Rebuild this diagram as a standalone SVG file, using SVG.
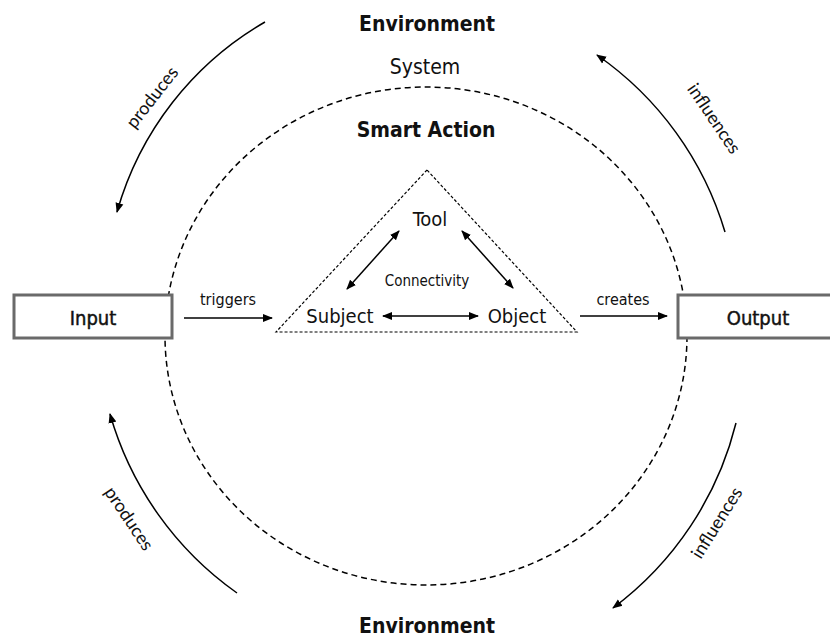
<svg xmlns="http://www.w3.org/2000/svg" width="830" height="637" viewBox="0 0 830 637">
  <style>
    .t { font-family: "DejaVu Sans Condensed", "DejaVu Sans", sans-serif; font-stretch: condensed; fill: #111; text-anchor: middle; }
    .b { font-weight: bold; }
    .heavy { stroke: #111; stroke-width: 0.45; }
    .lbl { font-family: Lato, "Open Sans", sans-serif; font-size: 18px; fill: #111; text-anchor: middle; }
    .box { fill: #fff; stroke: #6a6a6a; stroke-width: 3; }
    .flow { fill: none; stroke: #000; stroke-width: 1.5; }
    .link { fill: none; stroke: #000; stroke-width: 1.5; }
  </style>
  <defs>
    <marker id="arr" viewBox="0 0 10 10" refX="9" refY="5" markerWidth="10" markerHeight="10" markerUnits="userSpaceOnUse" orient="auto-start-reverse">
      <path d="M0,1 L10,5 L0,9 z" fill="#000"/>
    </marker>
  </defs>
  <rect width="830" height="637" fill="#fff"/>

  <!-- system boundary -->
  <g id="system">
    <ellipse cx="426" cy="336" rx="261" ry="249" fill="none" stroke="#000" stroke-width="1.5" stroke-dasharray="6,4"/>
    <text class="t" x="425" y="74" font-size="21">System</text>
  </g>

  <g id="environment">
    <text class="t b" x="427" y="31" font-size="21">Environment</text>
    <text class="t b" x="427" y="633" font-size="21">Environment</text>
  </g>

  <!-- smart action triangle -->
  <g id="smart-action">
    <text class="t b" x="426" y="137" font-size="21">Smart Action</text>
    <polygon points="427,170 276,332 577,332" fill="none" stroke="#000" stroke-width="1.2" stroke-dasharray="3,2"/>
    <text class="t" x="427" y="286" font-size="15">Connectivity</text>
  </g>
  <g id="tool"><text class="t" x="430" y="226" font-size="20">Tool</text></g>
  <g id="subject"><text class="t" x="340" y="323" font-size="20">Subject</text></g>
  <g id="object"><text class="t" x="517" y="323" font-size="20">Object</text></g>

  <g id="input">
    <rect class="box" x="14" y="295" width="158" height="43"/>
    <text class="t heavy" x="93" y="325" font-size="20">Input</text>
  </g>
  <g id="output">
    <rect class="box" x="678" y="295" width="170" height="43"/>
    <text class="t heavy" x="758" y="325" font-size="20">Output</text>
  </g>

  <g id="connectors">
    <!-- triangle links -->
    <line class="link" x1="347" y1="289" x2="399" y2="231" marker-start="url(#arr)" marker-end="url(#arr)"/>
    <line class="link" x1="462" y1="231" x2="513" y2="288" marker-start="url(#arr)" marker-end="url(#arr)"/>
    <line class="link" x1="383" y1="316" x2="478" y2="316" marker-start="url(#arr)" marker-end="url(#arr)"/>

    <!-- input / output flows -->
    <line class="link" x1="184" y1="318" x2="272" y2="318" marker-end="url(#arr)"/>
    <text class="t" x="228" y="305" font-size="16">triggers</text>
    <line class="link" x1="580" y1="316" x2="667" y2="316" marker-end="url(#arr)"/>
    <text class="t" x="623" y="305" font-size="16">creates</text>

    <!-- environment cycle -->
    <path class="flow" d="M265,22 A320,320 0 0 0 117,212" marker-end="url(#arr)"/>
    <text class="lbl" transform="translate(157,101) rotate(-52)">produces</text>
    <path class="flow" d="M725,232 A330,330 0 0 0 597,55" marker-end="url(#arr)"/>
    <text class="lbl" transform="translate(709,122) rotate(56)">influences</text>
    <path class="flow" d="M237,593 A330,330 0 0 1 110,414" marker-end="url(#arr)"/>
    <text class="lbl" transform="translate(124,522) rotate(56)">produces</text>
    <path class="flow" d="M736,423 A330,330 0 0 1 613,608" marker-end="url(#arr)"/>
    <text class="lbl" transform="translate(722,526) rotate(-58)">influences</text>
  </g>
</svg>
